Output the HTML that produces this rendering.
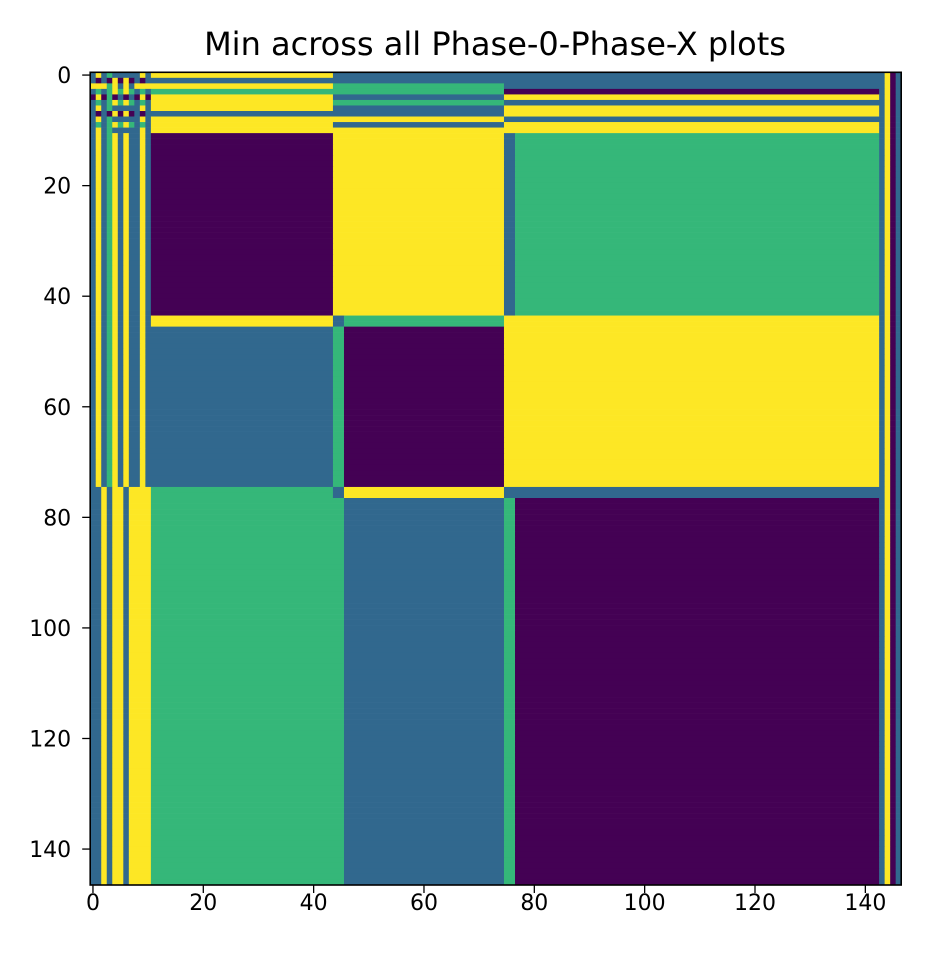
<!DOCTYPE html>
<html><head><meta charset="utf-8"><style>
body{margin:0;background:#fff;font-family:"DejaVu Sans","Liberation Sans",sans-serif}
</style></head><body>
<svg id="chart" width="926" height="960" xmlns="http://www.w3.org/2000/svg" font-family="DejaVu Sans, Liberation Sans, sans-serif">
<text x="495" y="55" font-size="32" text-anchor="middle" fill="#000">Min across all Phase-0-Phase-X plots</text>
<g id="cells"></g>
<g id="axes"></g>
</svg>
<script>
const N = 147;
const palette = ["#440154","#31688e","#35b779","#fde725"];
// group boundaries (start index of each group): E, A, s1, B, s2, C, R
const groupStarts = [0, 11, 44, 46, 75, 77, 143];
// block values [rowGroup][colGroup]; -1 = use stripe arrays
const blockValues = [
  [-1,-1,-1,-1,-1,-1,-1],
  [-1, 0, 3, 3, 1, 2, -1],
  [-1, 3, 1, 2, 3, 3, -1],
  [-1, 1, 2, 0, 3, 3, -1],
  [-1, 2, 1, 3, 1, 1, -1],
  [-1, 2, 2, 1, 2, 0, -1]
];
// left edge column stripes (cols 0-10) for upper and lower row groups
const colStripeUpper = [1,3,1,2,3,1,3,1,1,3,1];
const colStripeLower = [1,1,3,1,3,3,1,3,3,3,3];
// right edge columns (143-146)
const colStripeRight = [1,3,0,1];
// top row stripes (rows 0-10) per column group
const rowStripeA = [3,1,3,2,3,3,3,1,3,3,3];
const rowStripeB = [1,1,2,2,1,2,1,1,3,1,3];
const rowStripeC = [1,1,1,0,3,1,3,3,1,3,3];
const rowStripeE = [1,0,3,2,0,2,1,0,1,2,1];

function groupOf(i){let g=0;for(let k=0;k<groupStarts.length;k++)if(i>=groupStarts[k])g=k;return g;}
function value(r,c){
  const rg=Math.min(groupOf(r),5), cg=groupOf(c);
  if(rg===0){
    if(cg===0) return (r+c)%2===0?rowStripeE[r]:colStripeUpper[c];
    if(cg===6) return colStripeRight[c-143];
    if(cg===1) return rowStripeA[r];
    if(cg===3||cg===2) return rowStripeB[r];
    return rowStripeC[r];
  }
  if(cg===0) return rg>=4?colStripeLower[c]:colStripeUpper[c];
  if(cg===6) return colStripeRight[c-143];
  return blockValues[rg][cg];
}
const x0=90.2, y0=72.3, cw=811/N, ch=812.7/N;
const xs=i=>x0+i*cw, ys=i=>y0+i*ch;
const NS="http://www.w3.org/2000/svg";
const cells=document.getElementById('cells');
for(let r=0;r<N;r++){
  let c=0;
  while(c<N){
    const v=value(r,c);let e=c;
    while(e+1<N&&value(r,e+1)===v)e++;
    const rect=document.createElementNS(NS,'rect');
    
    
    rect.setAttribute('x',xs(c));rect.setAttribute('y',ys(r));
    rect.setAttribute('width',xs(e+1)-xs(c)+0.3);rect.setAttribute('height',ch+0.3);
    rect.setAttribute('fill',palette[v]);
    cells.appendChild(rect);
    c=e+1;
  }
}
const ax=document.getElementById('axes');
const frame=document.createElementNS(NS,'rect');


frame.setAttribute('x',x0);frame.setAttribute('y',y0);frame.setAttribute('width',811);frame.setAttribute('height',812.7);
frame.setAttribute('fill','none');frame.setAttribute('stroke','#000');frame.setAttribute('stroke-width','1.6');
ax.appendChild(frame);
const ticks=[0,20,40,60,80,100,120,140];
ticks.forEach(t=>{
  const x=xs(t+0.5), y=ys(t+0.5);
  const lx=document.createElementNS(NS,'line');
  
  
  lx.setAttribute('x1',x);lx.setAttribute('x2',x);lx.setAttribute('y1',y0+812.7);lx.setAttribute('y2',y0+812.7+8);
  lx.setAttribute('stroke','#000');lx.setAttribute('stroke-width','1.3');ax.appendChild(lx);
  const tx=document.createElementNS(NS,'text');
  
  
  tx.setAttribute('x',x);tx.setAttribute('y',910);tx.setAttribute('font-size','22');tx.setAttribute('text-anchor','middle');
  tx.textContent=t;ax.appendChild(tx);
  const ly=document.createElementNS(NS,'line');
  
  
  ly.setAttribute('x1',x0-8);ly.setAttribute('x2',x0);ly.setAttribute('y1',y);ly.setAttribute('y2',y);
  ly.setAttribute('stroke','#000');ly.setAttribute('stroke-width','1.3');ax.appendChild(ly);
  const ty=document.createElementNS(NS,'text');
  
  
  ty.setAttribute('x',x0-19);ty.setAttribute('y',y+8);ty.setAttribute('font-size','22');ty.setAttribute('text-anchor','end');
  ty.textContent=t;ax.appendChild(ty);
});
</script>
</body></html>
